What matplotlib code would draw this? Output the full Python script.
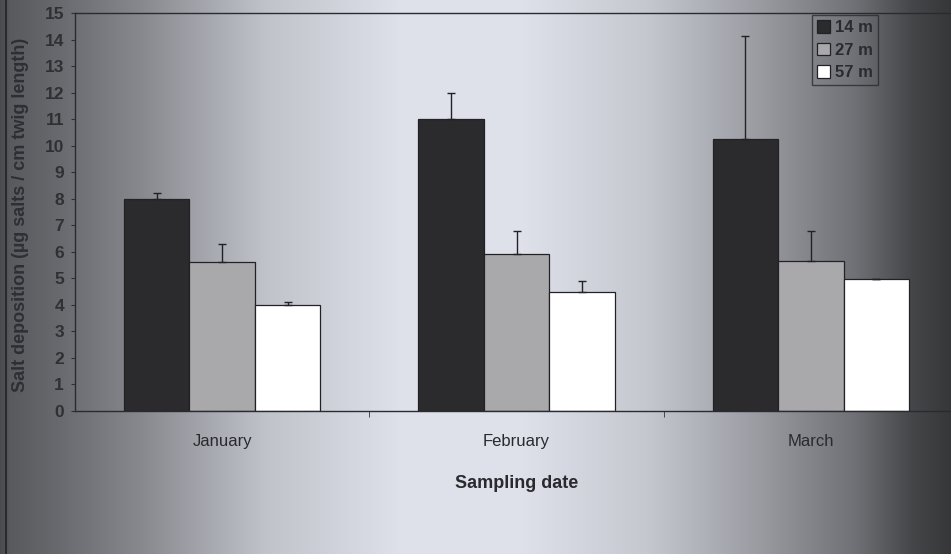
import matplotlib.pyplot as plt
import numpy as np

plt.rcParams['font.family'] = ['Liberation Sans', 'DejaVu Sans']

# данные: отложение солей по месяцам и глубинам
months = ["January", "February", "March"]
depths = ["14 m", "27 m", "57 m"]

salt_14 = [8.0, 11.0, 10.25]
salt_27 = [5.6, 5.9, 5.65]
salt_57 = [4.0, 4.5, 4.97]

err_14 = [0.2, 1.0, 3.9]
err_27 = [0.7, 0.9, 1.15]
err_57 = [0.1, 0.4, 0.0]

bar_colors = ["#2b2b2d", "#a9a9ab", "#ffffff"]

fig = plt.figure(figsize=(9.51, 5.54), dpi=100)

# фон с градиентом
bg = fig.add_axes([0, 0, 1, 1], zorder=-10)
xs = np.linspace(0, 1, 951)
stops = [0.0, 0.01, 0.06, 0.15, 0.28, 0.42, 0.55, 0.68, 0.8, 0.9, 0.96, 1.0]
vals = [0.30, 0.36, 0.42, 0.55, 0.78, 0.90, 0.90, 0.80, 0.62, 0.45, 0.28, 0.22]
col = np.interp(xs, stops, vals)
img = np.stack([col * 0.97, col * 0.98, col * 1.02], axis=-1)
img = np.clip(np.repeat(img[None, :, :], 10, axis=0), 0, 1)
bg.imshow(img, aspect='auto', extent=[0, 1, 0, 1])
bg.axvline(0.006, color="#2a2a2e", lw=1.5)
bg.set_xlim(0, 1)
bg.set_ylim(0, 1)
bg.axis('off')

ax = fig.add_axes([75 / 951, 143 / 554, 883 / 951, 398 / 554])
ax.set_facecolor('none')

x = np.arange(len(months))
w = 0.222
series = [salt_14, salt_27, salt_57]
errors = [err_14, err_27, err_57]

for i in range(3):
    pos = x + (i - 1) * w
    ax.bar(pos, series[i], width=w, color=bar_colors[i], edgecolor="#222226",
           linewidth=0.9, label=depths[i], zorder=2)
    ax.errorbar(pos, series[i], yerr=[np.zeros(3), errors[i]], fmt='none',
                ecolor="#222226", elinewidth=1.0, capsize=3, capthick=1.0, zorder=3)

ax.set_xlim(-0.5, 2.5)
ax.set_ylim(0, 15)
ax.set_yticks(range(0, 16))
ax.tick_params(axis='y', labelsize=12.5, length=3, pad=5, colors="#303034")
for lbl in ax.get_yticklabels():
    lbl.set_fontweight('bold')

ax.set_xticks(x)
ax.set_xticklabels(months, fontsize=12, color="#2a2a2e")
ax.tick_params(axis='x', length=0, pad=16.5)
ax.set_xticks([0.5, 1.5], minor=True)
ax.tick_params(axis='x', which='minor', length=4, direction='out', color="#333")

for s in ['left', 'bottom', 'top']:
    ax.spines[s].set_color("#2a2a30")
    ax.spines[s].set_linewidth(1.0)
ax.spines['right'].set_visible(False)

ax.set_xlabel("Sampling date", fontsize=13, fontweight='bold', labelpad=19,
              color="#2a2a2e")
fig.text(21 / 951, (554 - 215) / 554, "Salt deposition (µg salts / cm twig length)",
         rotation=90, ha='center', va='center', fontsize=13, fontweight='bold',
         color="#2e2e34")

leg = ax.legend(loc='upper left', bbox_to_anchor=(812 / 951, 539 / 554),
                bbox_transform=fig.transFigure, frameon=True, fancybox=False,
                fontsize=12, handlelength=0.8, handleheight=0.8, handletextpad=0.3,
                labelspacing=0.45, borderpad=0.3, borderaxespad=0)
leg.get_frame().set_edgecolor("#2a2a30")
leg.get_frame().set_facecolor('none')
leg.get_frame().set_linewidth(1.0)
for t in leg.get_texts():
    t.set_fontweight('bold')
    t.set_color("#2a2a30")

fig.savefig("out.png", dpi=100)
